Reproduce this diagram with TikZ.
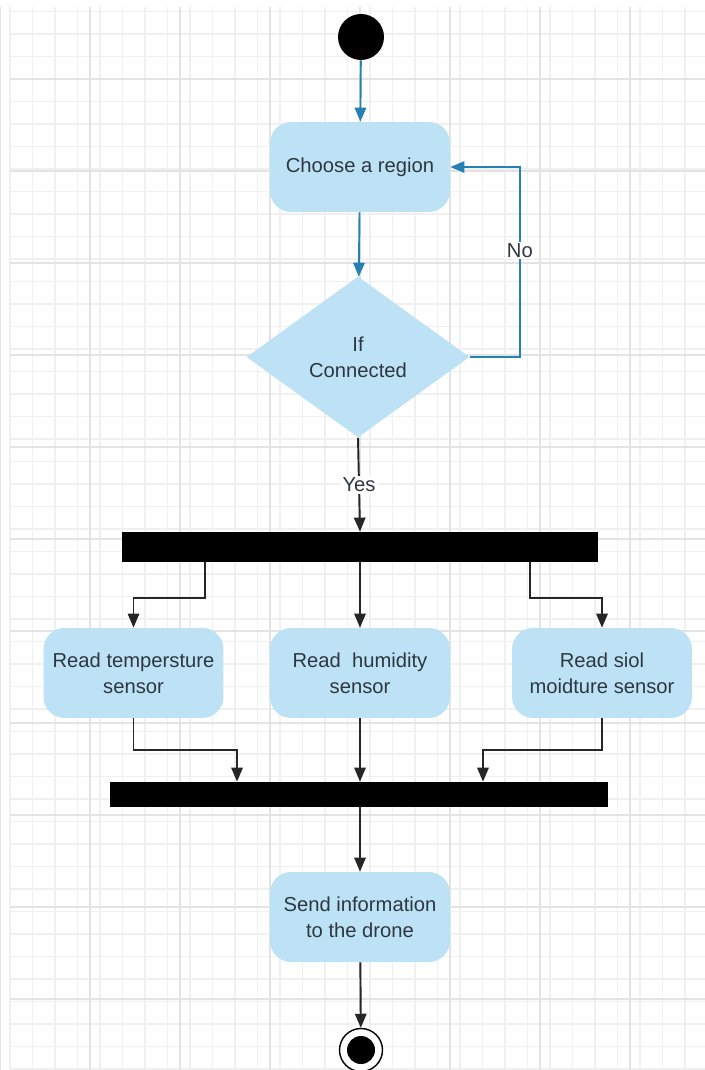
\documentclass[tikz,border=0pt]{standalone}
\usepackage{fontspec}
\setmainfont{Liberation Sans}
\usepackage{tikz}
\usetikzlibrary{arrows.meta, shapes.geometric, positioning}

\definecolor{actblue}{RGB}{190,226,245}
\definecolor{flowblue}{RGB}{38,128,178}
\definecolor{txtgray}{RGB}{45,55,65}

\begin{document}
\begin{tikzpicture}[
		x=0.02cm, y=-0.02cm,
		action/.style	={ rectangle, rounded corners=12pt,
			fill=actblue, draw=none, text=txtgray,
			align=center, font=\fontsize{11.5}{15}\selectfont,
			minimum width=3.6cm, minimum height=1.8cm, inner sep=2pt
		},
		decide/.style	={ diamond, fill=actblue, draw=none, text=txtgray,
			align=center, font=\fontsize{11.5}{15}\selectfont,
			minimum width=4.46cm, minimum height=3.22cm, inner sep=0pt
		},
		bar/.style		={ rectangle, fill=black, draw=none,
			minimum height=0.6cm, inner sep=0pt
		},
		flow/.style		={ line width=1.1pt, draw=black!85,
			-{Triangle[length=8pt, width=6.5pt]}
		},
		bflow/.style	={ flow, draw=flowblue },
		lbl/.style		={ fill=white, text=txtgray, inner sep=1pt,
			font=\fontsize{11.5}{14}\selectfont
		},
	]

	% draw background grid
	\useasboundingbox (0,0) rectangle (705,1070);
	\fill [white] (0,0) rectangle (705,1070);
	\foreach \gx in {10,32.5,...,705}
		\draw [gray!12, line width=0.6pt] (\gx,7) -- (\gx,1070);
	\foreach \gy in {11.5,34,...,1070}
		\draw [gray!12, line width=0.6pt] (10,\gy) -- (705,\gy);
	\foreach \gx in {0,90,...,705}
		\draw [gray!22, line width=0.8pt] (\gx,7) -- (\gx,1070);
	\foreach \gy in {79,171,...,1070}
		\draw [gray!22, line width=0.8pt] (10,\gy) -- (705,\gy);

	% declare nodes
	\node (start) [circle, fill=black, minimum size=0.92cm, inner sep=0pt] at (361,37) {};
	\node (region) [action] at (360,167) {Choose a region};
	\node (conn) [decide] at (358,357) {If\\Connected};
	\node (fork) [bar, minimum width=9.52cm] at (360,547) {};
	\node (rtemp) [action] at (133.5,673) {Read tempersture\\sensor};
	\node (rhum) [action] at (360,673) {Read\ \ humidity\\sensor};
	\node (rsoil) [action] at (602,673) {Read siol\\moidture sensor};
	\node (join) [bar, minimum width=9.96cm, minimum height=0.5cm] at (359,794.5) {};
	\node (send) [action] at (360,917) {Send information\\to the drone};
	\node (stop) [circle, draw=black, thick, fill=white, minimum size=0.86cm, inner sep=0pt] at (361,1050) {};
	\node (stopdot) [circle, fill=black, minimum size=0.56cm, inner sep=0pt] at (stop) {};

	% draw blue flows
	\draw [bflow] (start) -- (region);
	\draw [bflow] (region) -- (conn);
	\draw [bflow] (conn.east) -- ++(50,0)
			|- node [lbl, pos=.28] (no) {No} (region.east);

	% draw fork and join
	\draw [flow] (conn.south) -- node [lbl] (yes) {Yes} (fork.north);
	\draw [flow] ([xshift=-3.1cm]fork.south) -- ++(0,36) -| (rtemp.north);
	\draw [flow] (fork.south -| rhum.north) -- (rhum.north);
	\draw [flow] ([xshift=3.4cm]fork.south) -- ++(0,36) -| (rsoil.north);

	\draw [flow] (rtemp.south) -- ++(0,32) -| ([xshift=-2.44cm]join.north);
	\draw [flow] (rhum.south) -- (rhum.south |- join.north);
	\draw [flow] (rsoil.south) -- ++(0,32) -| ([xshift=2.48cm]join.north);

	\draw [flow] (join.south -| send.north) -- (send.north);
	\draw [flow] (send) -- (stop);

\end{tikzpicture}
\end{document}
